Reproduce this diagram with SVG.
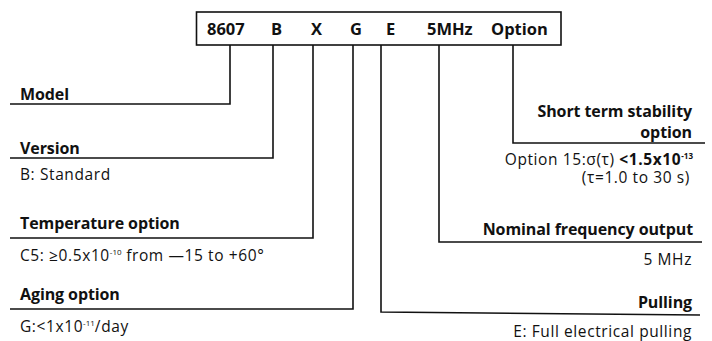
<svg xmlns="http://www.w3.org/2000/svg" width="712" height="341" viewBox="0 0 712 341">
<style>
text{font-family:"Open Sans","Noto Sans","Liberation Sans",sans-serif;fill:#111}
.h{font-size:16.5px;font-weight:bold}
.l{font-size:16px;font-weight:bold;letter-spacing:-0.1px}
.v{font-size:15.5px;letter-spacing:0.6px}
.s{font-size:8px;letter-spacing:0}
.r{text-anchor:end}
.ln{fill:none;stroke:#111;stroke-width:1.6}
</style>
<rect width="712" height="341" fill="#fff"/>
<g id="header">
<rect x="196.5" y="12" width="364.5" height="33" class="ln"/>
<text class="h" x="207" y="35">8607</text>
<text class="h" x="271" y="35">B</text>
<text class="h" x="311" y="35">X</text>
<text class="h" x="350" y="35">G</text>
<text class="h" x="386" y="35">E</text>
<text class="h" x="427" y="35">5MHz</text>
<text class="h" x="491" y="35">Option</text>
</g>
<g id="connectors">
<polyline class="ln" points="230,45 230,104 10,104"/>
<polyline class="ln" points="273,45 273,158 10,158"/>
<polyline class="ln" points="313,45 313,238 10,238"/>
<polyline class="ln" points="353,45 353,309 10,309"/>
<polyline class="ln" points="381,45 381,312 700,315"/>
<polyline class="ln" points="439,45 439,242 702,242"/>
<polyline class="ln" points="513,45 513,143 705,143"/>
</g>
<g id="model">
<text class="l" x="20" y="100">Model</text>
</g>
<g id="version">
<text class="l" x="20" y="154">Version</text>
<text class="v" x="20" y="180">B: Standard</text>
</g>
<g id="temperature">
<text class="l" x="20" y="229">Temperature option</text>
<text class="v" x="20" y="261">C5: ≥0.5x10<tspan class="s" dy="-6">-10</tspan><tspan dy="6"> from —15 to +60°</tspan></text>
</g>
<g id="aging">
<text class="l" x="20" y="300">Aging option</text>
<text class="v" x="20" y="332">G:&lt;1x10<tspan class="s" dy="-6">-11</tspan><tspan dy="6">/day</tspan></text>
</g>
<g id="stability">
<text class="l r" x="692" y="117">Short term stability</text>
<text class="l r" x="692" y="138">option</text>
<text class="v r" x="693" y="165">Option 15:σ(τ) <tspan font-weight="bold">&lt;1.5x10</tspan><tspan class="s" font-weight="bold" dy="-6">-13</tspan></text>
<text class="v r" x="690" y="183">(τ=1.0 to 30 s)</text>
</g>
<g id="frequency">
<text class="l r" x="693" y="235">Nominal frequency output</text>
<text class="v r" x="692" y="265">5 MHz</text>
</g>
<g id="pulling">
<text class="l r" x="692" y="308">Pulling</text>
<text class="v r" x="692" y="337">E: Full electrical pulling</text>
</g>
</svg>
